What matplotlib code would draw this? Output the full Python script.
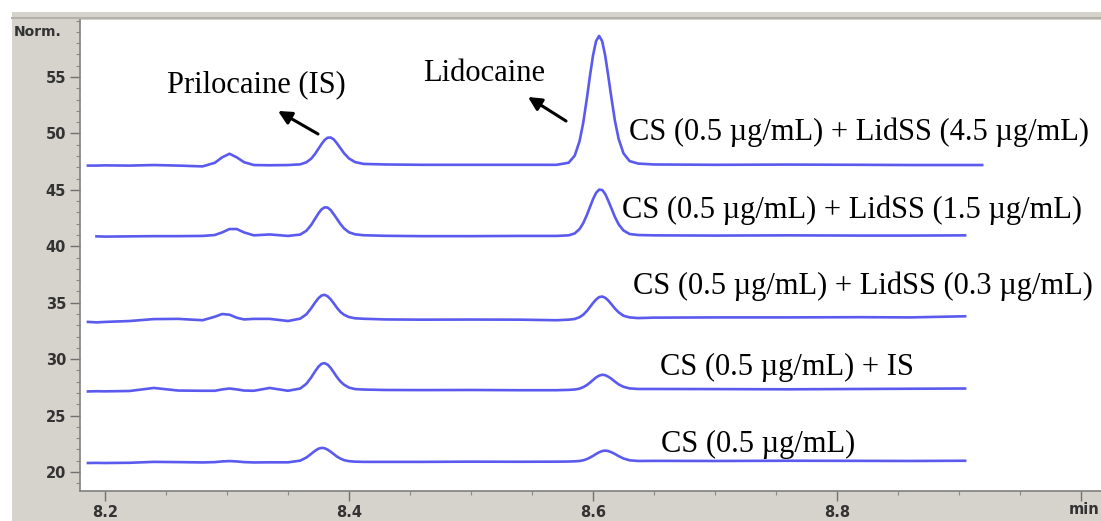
import numpy as np
import matplotlib.pyplot as plt
from matplotlib.patches import Rectangle
from matplotlib.ticker import MultipleLocator, FixedLocator

# retention time grid (min) and detector signal (Norm.)
t = [8.186, 8.193, 8.20, 8.22, 8.24, 8.26, 8.28, 8.290, 8.296, 8.302, 8.308, 8.314,
     8.322, 8.335, 8.350,
     8.360, 8.365, 8.369, 8.372, 8.375, 8.3775, 8.380, 8.3825, 8.385, 8.3875, 8.390,
     8.393, 8.396, 8.400, 8.405, 8.412,
     8.43, 8.46, 8.50, 8.54, 8.570,
     8.580, 8.585, 8.589, 8.592, 8.595, 8.5975, 8.600, 8.6025, 8.605, 8.6075, 8.610,
     8.6125, 8.615, 8.618, 8.621, 8.625, 8.630, 8.637,
     8.65, 8.70, 8.76, 8.82, 8.86, 8.905, 8.919]

nan = np.nan
lid45 = [47.15, 47.15, 47.17, 47.15, 47.20, 47.15, 47.08, 47.40, 47.88, 48.20, 47.88, 47.45,
         47.20, 47.18, 47.20,
         47.26, 47.44, 47.76, 48.16, 48.65, 49.06, 49.42, 49.62, 49.64, 49.47, 49.14,
         48.69, 48.24, 47.78, 47.46, 47.30,
         47.25, 47.22, 47.22, 47.22, 47.22,
         47.40, 48.03, 49.32, 50.95, 53.12, 55.10, 56.90, 58.18, 58.64, 58.18, 56.90,
         55.10, 53.22, 51.10, 49.52, 48.23, 47.55, 47.33,
         47.25, 47.22, 47.24, 47.22, 47.20, 47.20, 47.20]
lid15 = [nan, 40.88, 40.86, 40.88, 40.90, 40.90, 40.92, 41.00, 41.23, 41.53, 41.53, 41.23,
         40.97, 41.05, 40.92,
         41.04, 41.37, 41.89, 42.41, 42.93, 43.27, 43.45, 43.43, 43.21, 42.84, 42.45,
         41.97, 41.58, 41.24, 41.06, 40.98,
         40.93, 40.90, 40.90, 40.92, 40.92,
         40.97, 41.14, 41.53, 42.05, 42.78, 43.48, 44.17, 44.73, 45.02, 44.99, 44.64,
         44.04, 43.39, 42.59, 41.95, 41.40, 41.09, 41.00,
         40.97, 40.95, 40.97, 40.95, 40.95, 40.97, nan]
lid03 = [33.30, 33.26, 33.30, 33.38, 33.55, 33.57, 33.45, 33.76, 34.00, 33.94, 33.67, 33.52,
         33.57, 33.57, 33.38,
         33.59, 33.97, 34.51, 34.99, 35.41, 35.64, 35.70, 35.57, 35.30, 34.95, 34.57,
         34.18, 33.93, 33.73, 33.62, 33.58,
         33.52, 33.50, 33.51, 33.50, 33.45,
         33.50, 33.56, 33.72, 33.94, 34.27, 34.62, 34.97, 35.28, 35.50, 35.55, 35.44,
         35.20, 34.88, 34.48, 34.15, 33.85, 33.70, 33.64,
         33.68, 33.70, 33.70, 33.72, 33.70, 33.80, nan]
cs_is = [27.14, 27.16, 27.15, 27.18, 27.45, 27.22, 27.20, 27.20, 27.32, 27.40, 27.32, 27.22,
         27.20, 27.45, 27.20,
         27.40, 27.81, 28.38, 28.89, 29.34, 29.59, 29.65, 29.51, 29.22, 28.83, 28.43,
         28.02, 27.73, 27.48, 27.35, 27.31,
         27.27, 27.26, 27.27, 27.25, 27.25,
         27.28, 27.31, 27.39, 27.52, 27.71, 27.92, 28.15, 28.38, 28.54, 28.62, 28.58,
         28.45, 28.27, 28.01, 27.77, 27.55, 27.41, 27.36,
         27.36, 27.35, 27.33, 27.36, 27.38, 27.40, nan]
cs_only = [20.80, 20.81, 20.80, 20.82, 20.90, 20.88, 20.85, 20.88, 20.94, 20.97, 20.94, 20.88,
           20.85, 20.86, 20.86,
           21.01, 21.28, 21.61, 21.87, 22.07, 22.14, 22.11, 21.98, 21.80, 21.59, 21.38,
           21.19, 21.05, 20.96, 20.92, 20.90,
           20.90, 20.90, 20.92, 20.91, 20.92,
           20.93, 20.95, 20.98, 21.04, 21.15, 21.28, 21.43, 21.60, 21.75, 21.86, 21.90,
           21.86, 21.76, 21.60, 21.41, 21.20, 21.04, 20.98,
           20.99, 20.98, 21.00, 20.99, 20.98, 21.00, nan]

traces = [lid45, lid15, lid03, cs_is, cs_only]
labels = ['CS (0.5 µg/mL) + LidSS (4.5 µg/mL)',
          'CS (0.5 µg/mL) + LidSS (1.5 µg/mL)',
          'CS (0.5 µg/mL) + LidSS (0.3 µg/mL)',
          'CS (0.5 µg/mL) + IS',
          'CS (0.5 µg/mL)']
label_x = [8.8184, 8.8127, 8.8209, 8.7586, 8.7357]
label_y = [50.13, 43.22, 36.48, 29.30, 22.48]

xticks = [8.2, 8.4, 8.6, 8.8]
yticks = [20, 25, 30, 35, 40, 45, 50, 55]

W, H = 1101, 521
gray = '#d6d3cd'
fig = plt.figure(figsize=(W / 100, H / 100), dpi=100, facecolor='white')
fig.patches.append(Rectangle((12 / W, 0), 1, (H - 12) / H, transform=fig.transFigure,
                             facecolor=gray, edgecolor='none', zorder=-2))
fig.add_artist(plt.Line2D([12 / W, 1], [(H - 18) / H] * 2, transform=fig.transFigure,
                          color='#b4b0aa', lw=1.5, zorder=-1))

ax = fig.add_axes([80 / W, 30 / H, (W - 80) / W, (491 - 20) / H])
ax.set_zorder(1)
ax.set_facecolor('white')

for y in traces:
    ax.plot(t, y, color='#5a5aee', lw=1.9, solid_joinstyle='round')

ax.set_xlim(8.1795, 9.0164)
ax.set_ylim(18.32, 60.05)

ax.xaxis.set_major_locator(FixedLocator(xticks + [9.0]))
ax.set_xticklabels([str(v) for v in xticks] + [''])
ax.xaxis.set_minor_locator(MultipleLocator(0.05))
ax.yaxis.set_major_locator(FixedLocator(yticks))
ax.set_yticklabels([str(v) for v in yticks])
ax.yaxis.set_minor_locator(MultipleLocator(1))

ax.tick_params(axis='both', which='major', length=7, width=1, color='#707070',
               labelsize=10.5, labelcolor='#333333', pad=3)
ax.tick_params(axis='both', which='minor', length=3, width=0.8, color='#8a8a8a')
for lab in ax.get_xticklabels() + ax.get_yticklabels():
    lab.set_fontweight('bold')

for s in ['top', 'right']:
    ax.spines[s].set_visible(False)
for s in ['left', 'bottom']:
    ax.spines[s].set_color('#808080')
    ax.spines[s].set_linewidth(1.2)

fig.text(14 / W, 1 - 32 / H, 'Norm.', fontsize=10, fontweight='bold', color='#333333',
         va='center', ha='left')
fig.text(1099 / W, 1 - 510 / H, 'min', fontsize=10.5, fontweight='bold', color='#333333',
         va='center', ha='right')

serif = 'Liberation Serif'
for lx, ly, txt in zip(label_x, label_y, labels):
    ax.text(lx, ly, txt, fontsize=22, family=serif, ha='center', va='center', color='black')

ax.text(8.3238, 54.29, 'Prilocaine (IS)', fontsize=22, family=serif, ha='center', va='center')
ax.text(8.5111, 55.35, 'Lidocaine', fontsize=22, family=serif, ha='center', va='center')

arrow = dict(arrowstyle='-|>', color='black', lw=2.2, mutation_scale=20, shrinkA=0, shrinkB=0)
ax.annotate('', xy=(8.3418, 51.99), xytext=(8.3746, 49.95), arrowprops=arrow)
ax.annotate('', xy=(8.5467, 53.23), xytext=(8.5779, 51.10), arrowprops=arrow)

fig.savefig('out.png', dpi=100, facecolor=fig.get_facecolor())
